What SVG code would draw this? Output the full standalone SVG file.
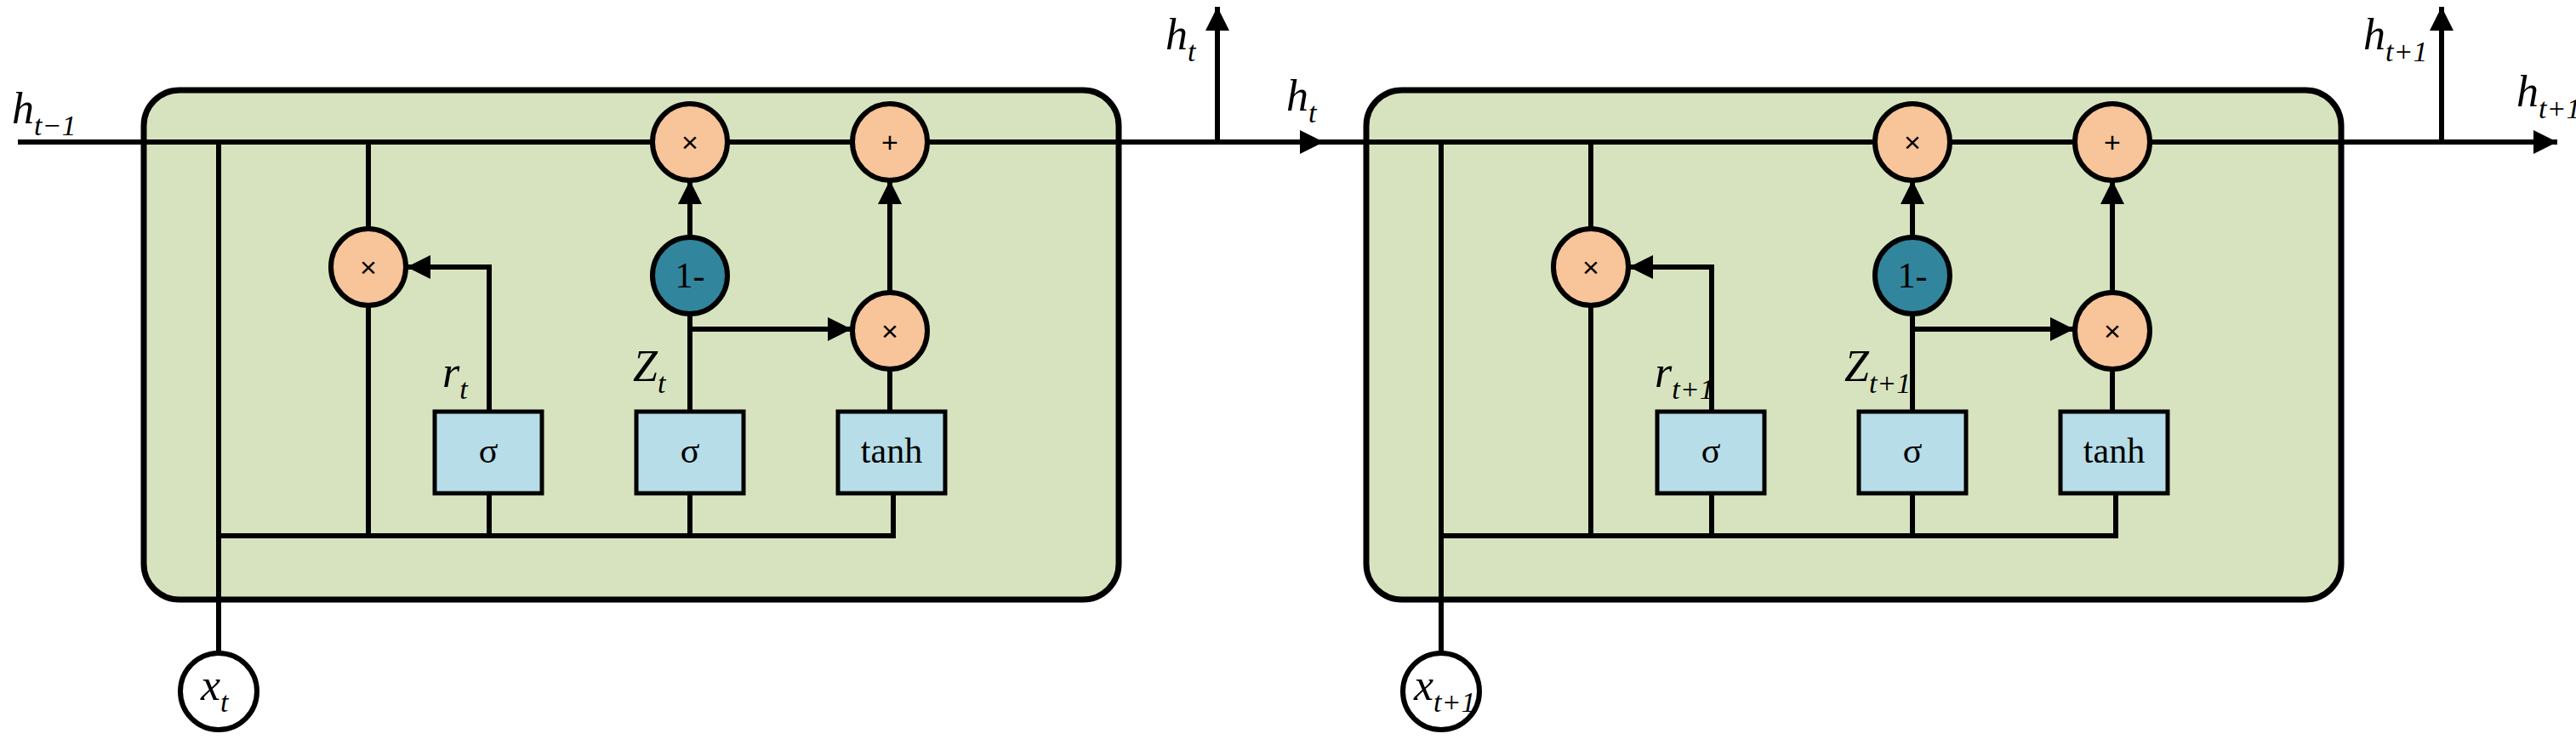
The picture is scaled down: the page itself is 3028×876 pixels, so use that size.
<svg xmlns="http://www.w3.org/2000/svg" width="3028" height="876" viewBox="0 0 3028 876">
<style>
.cell{fill:#d7e3bf;stroke:#000;stroke-width:7}
.op{fill:#f8c49a;stroke:#000;stroke-width:6}
.one{fill:#31859c;stroke:#000;stroke-width:6}
.in{fill:#fff;stroke:#000;stroke-width:6}
.gate{fill:#b7dde8;stroke:#000;stroke-width:5}
.ln{fill:none;stroke:#000;stroke-width:6}
.sym{font-family:"Liberation Sans",sans-serif;font-size:34px;text-anchor:middle;dominant-baseline:central}
.gt{font-family:"Liberation Serif",serif;font-size:42px;text-anchor:middle;dominant-baseline:central}
.lab{font-family:"Liberation Serif",serif;font-style:italic;font-size:52px}
.sub{font-size:34px}
</style>
<defs>
<marker id="ar" viewBox="0 0 10 10" refX="10" refY="5" markerWidth="28" markerHeight="28" markerUnits="userSpaceOnUse" orient="auto">
<path d="M0,0 L10,5 L0,10 z" fill="#000"/>
</marker>
</defs>
<g id="cell1"><rect class="cell" x="169" y="106" width="1146" height="599" rx="42"/></g>
<g id="cell2"><rect class="cell" x="1606" y="106" width="1146" height="599" rx="42"/></g>
<g id="connectors">
<line class="ln" x1="21" y1="167" x2="1556" y2="167" marker-end="url(#ar)"/>
<line class="ln" x1="1556" y1="167" x2="3006" y2="167" marker-end="url(#ar)"/>
<line class="ln" x1="1431" y1="167" x2="1431" y2="8" marker-end="url(#ar)"/>
<line class="ln" x1="2870" y1="167" x2="2870" y2="8" marker-end="url(#ar)"/>
<g id="wires1">
<line class="ln" x1="257" y1="167" x2="257" y2="768"/>
<polyline class="ln" points="257,630 1050,630 1050,580"/>
<line class="ln" x1="433" y1="167" x2="433" y2="630"/>
<polyline class="ln" points="575,630 575,580"/>
<polyline class="ln" points="575,484 575,314 478,314" marker-end="url(#ar)"/>
<line class="ln" x1="811" y1="630" x2="811" y2="580"/>
<line class="ln" x1="811" y1="484" x2="811" y2="369"/>
<line class="ln" x1="811" y1="279" x2="811" y2="212" marker-end="url(#ar)"/>
<line class="ln" x1="811" y1="387" x2="1001" y2="387" marker-end="url(#ar)"/>
<line class="ln" x1="1046" y1="484" x2="1046" y2="434"/>
<line class="ln" x1="1046" y1="344" x2="1046" y2="212" marker-end="url(#ar)"/>
</g>
<g id="wires2" transform="translate(1437,0)">
<line class="ln" x1="257" y1="167" x2="257" y2="768"/>
<polyline class="ln" points="257,630 1050,630 1050,580"/>
<line class="ln" x1="433" y1="167" x2="433" y2="630"/>
<polyline class="ln" points="575,630 575,580"/>
<polyline class="ln" points="575,484 575,314 478,314" marker-end="url(#ar)"/>
<line class="ln" x1="811" y1="630" x2="811" y2="580"/>
<line class="ln" x1="811" y1="484" x2="811" y2="369"/>
<line class="ln" x1="811" y1="279" x2="811" y2="212" marker-end="url(#ar)"/>
<line class="ln" x1="811" y1="387" x2="1001" y2="387" marker-end="url(#ar)"/>
<line class="ln" x1="1046" y1="484" x2="1046" y2="434"/>
<line class="ln" x1="1046" y1="344" x2="1046" y2="212" marker-end="url(#ar)"/>
</g>
</g>
<g id="n1-reset-mul"><ellipse class="op" cx="433" cy="314" rx="44" ry="45"/><text class="sym" x="433" y="314">×</text></g>
<g id="n1-r"><rect class="gate" x="511" y="484" width="126" height="96"/><text class="gt" x="574" y="530">σ</text></g>
<g id="n1-z"><rect class="gate" x="748" y="484" width="126" height="96"/><text class="gt" x="811" y="530">σ</text></g>
<g id="n1-tanh"><rect class="gate" x="985" y="484" width="126" height="96"/><text class="gt" x="1048" y="530">tanh</text></g>
<g id="n1-one"><ellipse class="one" cx="811" cy="324" rx="44" ry="45"/><text class="gt" x="811" y="324">1-</text></g>
<g id="n1-mul1"><ellipse class="op" cx="811" cy="167" rx="44" ry="45"/><text class="sym" x="811" y="167">×</text></g>
<g id="n1-mul2"><ellipse class="op" cx="1046" cy="389" rx="44" ry="45"/><text class="sym" x="1046" y="389">×</text></g>
<g id="n1-add"><ellipse class="op" cx="1046" cy="167" rx="44" ry="45"/><text class="sym" x="1046" y="167">+</text></g>
<g id="n1-x"><ellipse class="in" cx="257" cy="813" rx="45" ry="45"/><text class="lab" x="236" y="823">x<tspan class="sub" dy="14">t</tspan></text></g>
<g id="n2-reset-mul"><ellipse class="op" cx="1870" cy="314" rx="44" ry="45"/><text class="sym" x="1870" y="314">×</text></g>
<g id="n2-r"><rect class="gate" x="1948" y="484" width="126" height="96"/><text class="gt" x="2011" y="530">σ</text></g>
<g id="n2-z"><rect class="gate" x="2185" y="484" width="126" height="96"/><text class="gt" x="2248" y="530">σ</text></g>
<g id="n2-tanh"><rect class="gate" x="2422" y="484" width="126" height="96"/><text class="gt" x="2485" y="530">tanh</text></g>
<g id="n2-one"><ellipse class="one" cx="2248" cy="324" rx="44" ry="45"/><text class="gt" x="2248" y="324">1-</text></g>
<g id="n2-mul1"><ellipse class="op" cx="2248" cy="167" rx="44" ry="45"/><text class="sym" x="2248" y="167">×</text></g>
<g id="n2-mul2"><ellipse class="op" cx="2483" cy="389" rx="44" ry="45"/><text class="sym" x="2483" y="389">×</text></g>
<g id="n2-add"><ellipse class="op" cx="2483" cy="167" rx="44" ry="45"/><text class="sym" x="2483" y="167">+</text></g>
<g id="n2-x"><ellipse class="in" cx="1694" cy="813" rx="45" ry="45"/><text class="lab" x="1662" y="823">x<tspan class="sub" dy="14">t+1</tspan></text></g>
<g id="labels">
<text class="lab" x="14" y="145">h<tspan class="sub" dy="14">t−1</tspan></text>
<text class="lab" x="1370" y="58">h<tspan class="sub" dy="14">t</tspan></text>
<text class="lab" x="1512" y="130">h<tspan class="sub" dy="14">t</tspan></text>
<text class="lab" x="2778" y="58">h<tspan class="sub" dy="14">t+1</tspan></text>
<text class="lab" x="2958" y="125">h<tspan class="sub" dy="14">t+1</tspan></text>
<text class="lab" x="520" y="455">r<tspan class="sub" dy="14">t</tspan></text>
<text class="lab" x="744" y="448">Z<tspan class="sub" dy="14">t</tspan></text>
<text class="lab" x="1945" y="455">r<tspan class="sub" dy="14">t+1</tspan></text>
<text class="lab" x="2168" y="448">Z<tspan class="sub" dy="14">t+1</tspan></text>
</g>
</svg>
